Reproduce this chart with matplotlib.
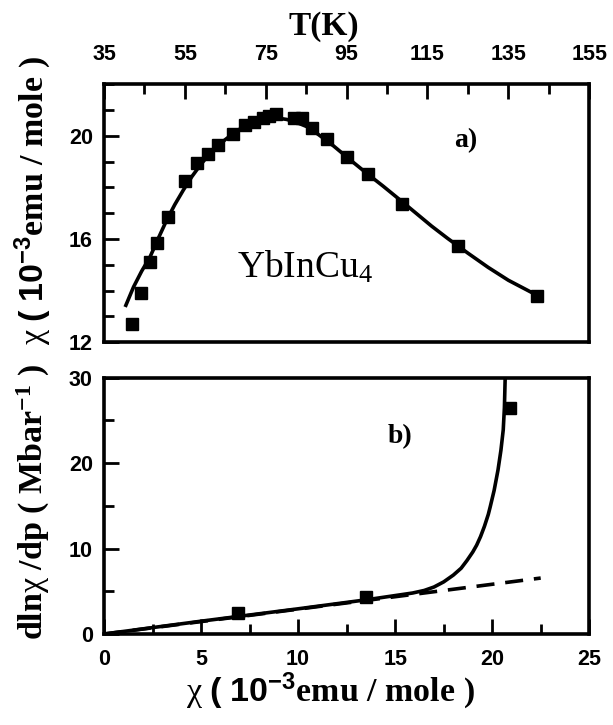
import numpy as np
import matplotlib.pyplot as plt
from matplotlib.ticker import MultipleLocator, FixedLocator

plt.rcParams['font.family'] = ['Liberation Serif', 'DejaVu Serif']
plt.rcParams['mathtext.fontset'] = 'custom'
plt.rcParams['mathtext.rm'] = 'Liberation Serif:bold'
plt.rcParams['mathtext.it'] = 'Liberation Serif'
plt.rcParams['mathtext.bf'] = 'Liberation Sans:bold'

# a) susceptibility vs temperature, measured points
T_data = [42.0, 44.1, 46.4, 48.2, 50.8, 55.0, 57.9, 60.6, 63.3, 66.9, 69.9, 72.1,
          74.2, 75.9, 77.6, 81.9, 83.9, 86.4, 90.1, 95.1, 100.4, 108.8, 122.5, 142.1]
chi_data = [12.69, 13.91, 15.11, 15.86, 16.86, 18.24, 18.93, 19.29, 19.64, 20.06, 20.41, 20.53,
            20.67, 20.76, 20.83, 20.67, 20.67, 20.28, 19.86, 19.18, 18.50, 17.35, 15.72, 13.78]

# a) fitted curve
T_fit = [40.4, 42.3, 44.3, 46.4, 48.5, 50.5, 52.5, 54.6, 56.7, 58.8, 60.8, 62.9, 65.0,
         67.0, 69.0, 71.1, 73.5, 76.9, 80.2, 82.7, 85.2, 88.0, 91.8, 96.0, 100.0, 104.0,
         108.3, 112.0, 116.0, 120.0, 125.0, 130.0, 135.0, 141.7]
chi_fit = [13.43, 14.14, 14.75, 15.31, 16.05, 16.73, 17.33, 17.89, 18.41, 18.86, 19.24, 19.57, 19.85,
           20.09, 20.30, 20.48, 20.62, 20.71, 20.63, 20.51, 20.35, 20.05, 19.60, 19.05, 18.54, 18.05,
           17.50, 17.02, 16.50, 16.02, 15.45, 14.90, 14.40, 13.85]

# b) dln(chi)/dp vs chi
x_pts = [6.9, 13.5, 20.9]
y_pts = [2.46, 4.3, 26.5]

x_curve = [0.0, 5.0, 10.0, 13.5, 15.0, 15.9, 16.5, 17.0, 17.5, 18.0, 18.4, 18.7, 19.0,
           19.2, 19.4, 19.6, 19.8, 19.9, 20.1, 20.3, 20.45, 20.57, 20.63, 20.67]
y_curve = [0.0, 1.5, 2.95, 4.0, 4.5, 4.8, 5.1, 5.5, 6.1, 6.9, 7.7, 8.6, 9.6,
           10.4, 11.4, 12.6, 14.0, 14.9, 16.8, 19.2, 21.5, 23.9, 26.5, 30.0]

x_lin = [0.0, 22.5]
y_lin = [0.0, 6.55]

T_major = [35, 55, 75, 95, 115, 135, 155]
T_minor = [45, 65, 85, 105, 125, 145]

lw = 2.6
label_size = 24.5
tick_font = dict(family='Liberation Sans', weight='bold', size=15.5)
chi_label = r'$\chi$ $\mathbf{(\ 10^{-3}}$emu / mole )'

fig = plt.figure(figsize=(6.13, 7.25), dpi=100)
ax1 = fig.add_axes([0.1697, 0.528, 0.7915, 0.356])
ax2 = fig.add_axes([0.1697, 0.1255, 0.7915, 0.3535])

for ax in (ax1, ax2):
    for s in ax.spines.values():
        s.set_linewidth(lw)
    ax.tick_params(which='both', direction='in', width=2.0)
    ax.tick_params(which='major', length=11)
    ax.tick_params(which='minor', length=7)
    ax.tick_params(axis='y', pad=8)
    ax.tick_params(axis='x', pad=11)

# top panel
ax1.plot(T_fit, chi_fit, color='black', lw=lw)
ax1.plot(T_data, chi_data, 's', color='black', ms=8)
ax1.set_xlim(35, 155)
ax1.set_ylim(12, 22)
ax1.xaxis.set_major_locator(FixedLocator(T_major))
ax1.xaxis.set_minor_locator(FixedLocator(T_minor))
ax1.yaxis.set_major_locator(MultipleLocator(4))
ax1.yaxis.set_minor_locator(MultipleLocator(1))
ax1.tick_params(axis='x', which='both', top=True, bottom=False, labeltop=True, labelbottom=False,
                pad=14)
ax1.tick_params(axis='y', which='both', left=True, right=False)
ax1.xaxis.set_label_position('top')
ax1.set_xlabel('T(K)', fontsize=24, fontweight='bold')
ax1.xaxis.set_label_coords(0.452, 1.19)
ax1.set_ylabel(chi_label, fontsize=label_size, fontweight='bold')
ax1.yaxis.set_label_coords(-0.105, 0.55)
ax1.text(0.745, 0.78, 'a)', transform=ax1.transAxes, fontsize=20, fontweight='bold',
         ha='center', va='center')
ax1.text(0.415, 0.29, r'YbInCu$_{\mathregular{4}}$', transform=ax1.transAxes, fontsize=27,
         ha='center', va='center', family='Liberation Serif')

# bottom panel
ax2.plot(x_lin, y_lin, color='black', lw=lw, dashes=[5, 3])
ax2.plot(x_curve, y_curve, color='black', lw=lw)
ax2.plot(x_pts, y_pts, 's', color='black', ms=8)
ax2.set_xlim(0, 25)
ax2.set_ylim(0, 30)
ax2.xaxis.set_major_locator(MultipleLocator(5))
ax2.xaxis.set_minor_locator(MultipleLocator(2.5))
ax2.yaxis.set_major_locator(MultipleLocator(10))
ax2.yaxis.set_minor_locator(MultipleLocator(5))
ax2.tick_params(which='both', top=False, right=False)
ax2.set_xlabel(chi_label, fontsize=label_size, fontweight='bold')
ax2.xaxis.set_label_coords(0.466, -0.14)
ax2.set_ylabel(r'dln$\chi$ /dp ( Mbar$^{-1}$ )', fontsize=label_size, fontweight='bold')
ax2.yaxis.set_label_coords(-0.107, 0.515)
ax2.text(0.61, 0.77, 'b)', transform=ax2.transAxes, fontsize=20, fontweight='bold',
         ha='center', va='center')

for ax in (ax1, ax2):
    for lab in ax.get_xticklabels() + ax.get_yticklabels():
        lab.set_fontproperties(tick_font)

fig.savefig('out.png', dpi=100)
